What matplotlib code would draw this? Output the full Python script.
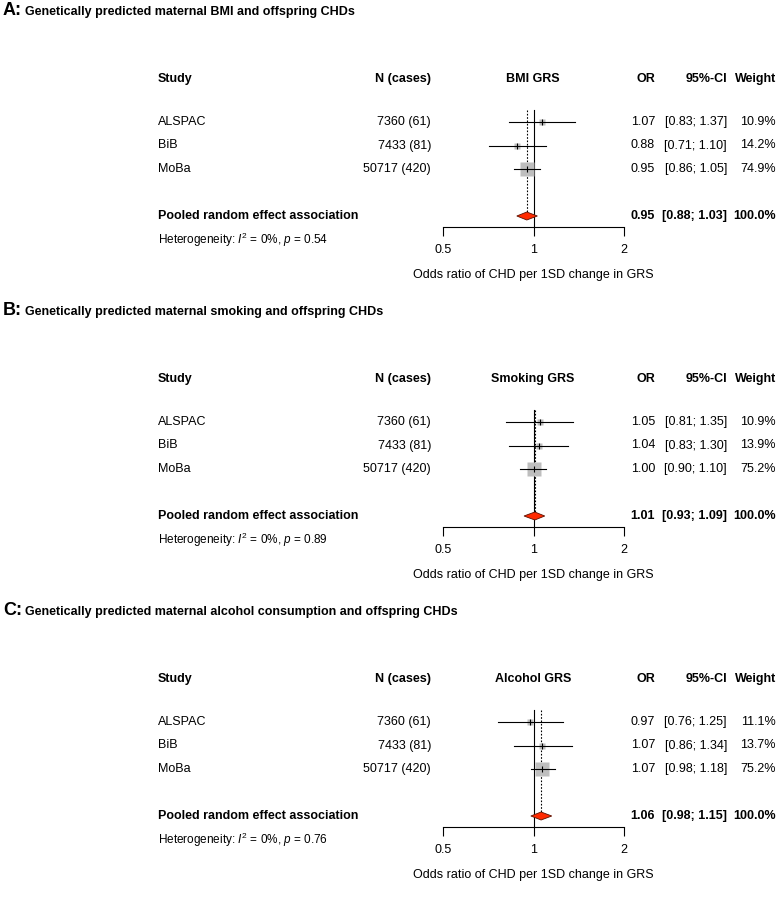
import matplotlib
matplotlib.use("Agg")
import matplotlib.pyplot as plt
import matplotlib.transforms as mtransforms

plt.rcParams['font.family'] = ['Liberation Sans', 'DejaVu Sans']
plt.rcParams['mathtext.fontset'] = 'custom'
plt.rcParams['mathtext.rm'] = 'Liberation Sans'
plt.rcParams['mathtext.it'] = 'Liberation Sans:italic'

# data
studies = ['ALSPAC', 'BiB', 'MoBa']
nCases = ['7360 (61)', '7433 (81)', '50717 (420)']
letters = ['A', 'B', 'C']
titles = ['Genetically predicted maternal BMI and offspring CHDs',
          'Genetically predicted maternal smoking and offspring CHDs',
          'Genetically predicted maternal alcohol consumption and offspring CHDs']
exposures = ['BMI GRS', 'Smoking GRS', 'Alcohol GRS']
orEst = [[1.07, 0.88, 0.95], [1.05, 1.04, 1.00], [0.97, 1.07, 1.07]]
ciLow = [[0.83, 0.71, 0.86], [0.81, 0.83, 0.90], [0.76, 0.86, 0.98]]
ciHigh = [[1.37, 1.10, 1.05], [1.35, 1.30, 1.10], [1.25, 1.34, 1.18]]
weights = [[10.9, 14.2, 74.9], [10.9, 13.9, 75.2], [11.1, 13.7, 75.2]]
pooledEst = [0.95, 1.01, 1.06]
pooledLow = [0.88, 0.93, 0.98]
pooledHigh = [1.03, 1.09, 1.15]
hetI2 = [0, 0, 0]
hetP = [0.54, 0.89, 0.76]
xTicks = [0.5, 1, 2]
xLabel = 'Odds ratio of CHD per 1SD change in GRS'

W, H = 777, 910
fig = plt.figure(figsize=(W / 100, H / 100), dpi=100)

ROW = 23.5          # pixels per row
FS = 9

def rowOf(pix):
	# pixel offset inside a panel -> row units (ALSPAC row = 1)
	return 1 + (pix - 122) / ROW

def drawPanel(k, off):
	top, bot = off + 60, off + 290
	ax = fig.add_axes([443 / W, 1 - bot / H, (624 - 443) / W, (bot - top) / H])
	ax.set_xscale('log')
	ax.set_xlim(0.5, 2)
	ax.set_ylim(rowOf(290), rowOf(60))
	for s in ['left', 'top', 'right']:
		ax.spines[s].set_visible(False)
	yAxis = rowOf(227)
	ax.spines['bottom'].set_position(('data', yAxis))
	ax.spines['bottom'].set_linewidth(0.8)
	ax.set_yticks([])
	ax.set_xticks(xTicks)
	ax.set_xticklabels([('%g' % t) for t in xTicks], fontsize=FS)
	ax.xaxis.set_minor_locator(matplotlib.ticker.NullLocator())
	ax.tick_params(axis='x', length=6.5, width=0.8, pad=6)
	ax.patch.set_visible(False)

	tr = mtransforms.blended_transform_factory(fig.transFigure, ax.transData)
	def col(xpix, y, s, **kw):
		fig.text(xpix / W, y, s, transform=tr, fontsize=kw.pop('fontsize', FS), va='center', **kw)

	# title
	yT = 1 - (off + 15) / H
	fig.text(3 / W, yT, letters[k] + ':', fontsize=13, fontweight='bold', va='baseline')
	fig.text(25 / W, yT, titles[k], fontsize=FS, fontweight='bold', va='baseline')

	# header
	yH = rowOf(79)
	col(158, yH, 'Study', fontweight='bold')
	col(431, yH, 'N (cases)', fontweight='bold', ha='right')
	col(533, yH, exposures[k], fontweight='bold', ha='center')
	col(655, yH, 'OR', fontweight='bold', ha='right')
	col(727, yH, '95%-CI', fontweight='bold', ha='right')
	col(776, yH, 'Weight', fontweight='bold', ha='right')

	# reference lines
	ax.plot([1, 1], [rowOf(110), yAxis], color='black', lw=0.8, clip_on=False)
	dH = 4 / ROW
	ax.plot([pooledEst[k]] * 2, [rowOf(110), 5 + dH], color='black', lw=0.8,
		linestyle=(0, (1.5, 1.5)), clip_on=False)

	# studies
	for i in range(len(studies)):
		y = i + 1
		ms = 1.1 * weights[k][i] ** 0.5
		ax.plot(orEst[k][i], y, marker='s', ms=ms, color='#BEBEBE', mec='none', zorder=2)
		ax.plot([ciLow[k][i], ciHigh[k][i]], [y, y], color='black', lw=0.8, zorder=3)
		ax.plot(orEst[k][i], y, marker='|', ms=4, color='black', mew=0.8, zorder=3)
		col(158, y, studies[i])
		col(431, y, nCases[i], ha='right')
		col(655, y, '%.2f' % orEst[k][i], ha='right')
		col(727, y, '[%.2f; %.2f]' % (ciLow[k][i], ciHigh[k][i]), ha='right')
		col(776, y, '%.1f%%' % weights[k][i], ha='right')

	# pooled
	yP = 5
	ax.fill([pooledLow[k], pooledEst[k], pooledHigh[k], pooledEst[k]],
		[yP, yP - dH, yP, yP + dH], facecolor='#FF2A00', edgecolor='#5a1000', lw=0.6, zorder=4)
	col(158, yP, 'Pooled random effect association', fontweight='bold')
	col(655, yP, '%.2f' % pooledEst[k], fontweight='bold', ha='right')
	col(727, yP, '[%.2f; %.2f]' % (pooledLow[k], pooledHigh[k]), fontweight='bold', ha='right')
	col(776, yP, '100.0%', fontweight='bold', ha='right')
	col(158, rowOf(240), r'Heterogeneity: $I^2$ = %d%%, $p$ = %.2f' % (hetI2[k], hetP[k]), fontsize=8.5)

	ax.text(1, rowOf(275), xLabel, fontsize=FS, ha='center', va='center')

for k in range(3):
	drawPanel(k, 300 * k)

fig.savefig('out.png', dpi=100)
